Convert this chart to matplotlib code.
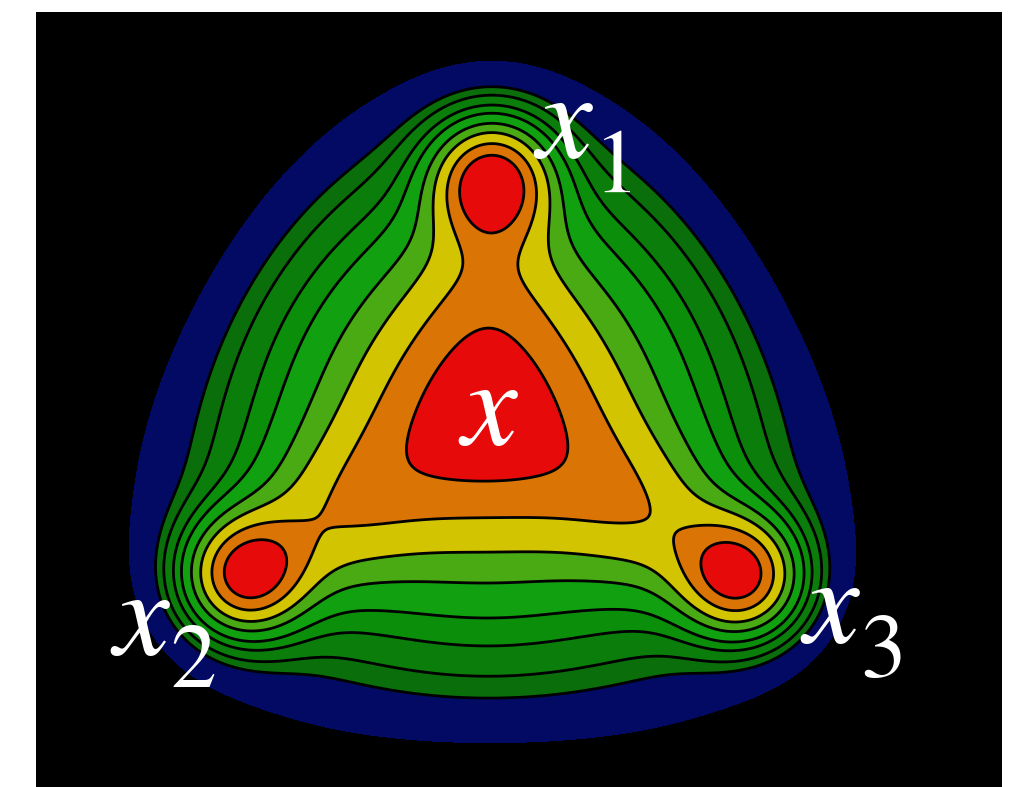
import numpy as np
import matplotlib.pyplot as plt

plt.rcParams["mathtext.fontset"] = "stix"

# peak positions (pixel coords of the axes, y grows downwards)
centre = (487, 410)
vertices = [(492, 178), (244, 576), (742, 577)]
names = ["1", "2", "3"]

broad_sigma, broad_amp = 250.0, 1.0
centre_sigma, centre_amp = 130.0, 1.2
arm_sigma, arm_amp = (70.0, 35.0), 0.4
vertex_sigma, vertex_amp = 40.0, 1.7
ridge_sigma, ridge_amp = 55.0, [0.2, 0.6, 0.6]

levels = [1.10, 1.30, 1.41, 1.58, 1.76, 2.03, 2.32, 2.69, 3.07, 99]
band_colors = ["#020a64", "#0a6e0a", "#0a7d0a", "#0b8f0b", "#10a010",
               "#4aaa14", "#d2c400", "#d97405", "#e60a0a"]


def bump(X, Y, cx, cy, s):
    return np.exp(-((X - cx) ** 2 + (Y - cy) ** 2) / (2 * s * s))


def field(X, Y):
    cx, cy = centre
    f = centre_amp * bump(X, Y, cx, cy, centre_sigma)
    n = 80
    ts = np.linspace(0, 1, n)
    # extra ridge along the outer middle part of each arm
    win = np.clip((ts - 0.38) / 0.24, 0, 1) * np.clip((0.92 - ts) / 0.2, 0, 1)
    for (vx, vy), ra in zip(vertices, ridge_amp):
        f = f + broad_amp * bump(X, Y, vx, vy, broad_sigma)
        f = f + vertex_amp * bump(X, Y, vx, vy, vertex_sigma)
        step = np.hypot(vx - cx, vy - cy) / (n - 1)
        for t, w in zip(ts, win):
            px, py = cx + t * (vx - cx), cy + t * (vy - cy)
            s = arm_sigma[0] + (arm_sigma[1] - arm_sigma[0]) * t
            f = f + arm_amp * step / (np.sqrt(2 * np.pi) * s) * bump(X, Y, px, py, s)
            if w > 0:
                f = f + ra * w * step / (np.sqrt(2 * np.pi) * ridge_sigma) \
                    * bump(X, Y, px, py, ridge_sigma)
    return f


xs = np.arange(36, 1004, 2.0)
ys = np.arange(12, 789, 2.0)
X, Y = np.meshgrid(xs, ys)
F = field(X, Y)

fig = plt.figure(figsize=(10.26, 7.87), dpi=100)
ax = fig.add_axes([36 / 1026, 0, 966 / 1026, 775 / 787])
ax.set_facecolor("black")
ax.contourf(X, Y, F, levels=levels, colors=band_colors)
ax.contour(X, Y, F, levels=levels[1:-1], colors="black", linewidths=2)
ax.set_xlim(36, 1002)
ax.set_ylim(787, 12)
ax.set_xticks([])
ax.set_yticks([])
for s in ax.spines.values():
    s.set_visible(False)

# vertex labels: italic x with a large upright index
label_pos = [(533, 158, 593, 192), (110, 655, 170, 687), (800, 643, 860, 677)]
for name, (x0, y0, x1, y1) in zip(names, label_pos):
    ax.text(x0, y0, r"$x$", color="white", fontsize=90)
    ax.text(x1, y1, rf"$\mathrm{{{name}}}$", color="white", fontsize=66)
ax.text(489, 445, r"$x$", color="white", fontsize=90, ha="center")

fig.savefig("out.png", dpi=100, facecolor="white")
